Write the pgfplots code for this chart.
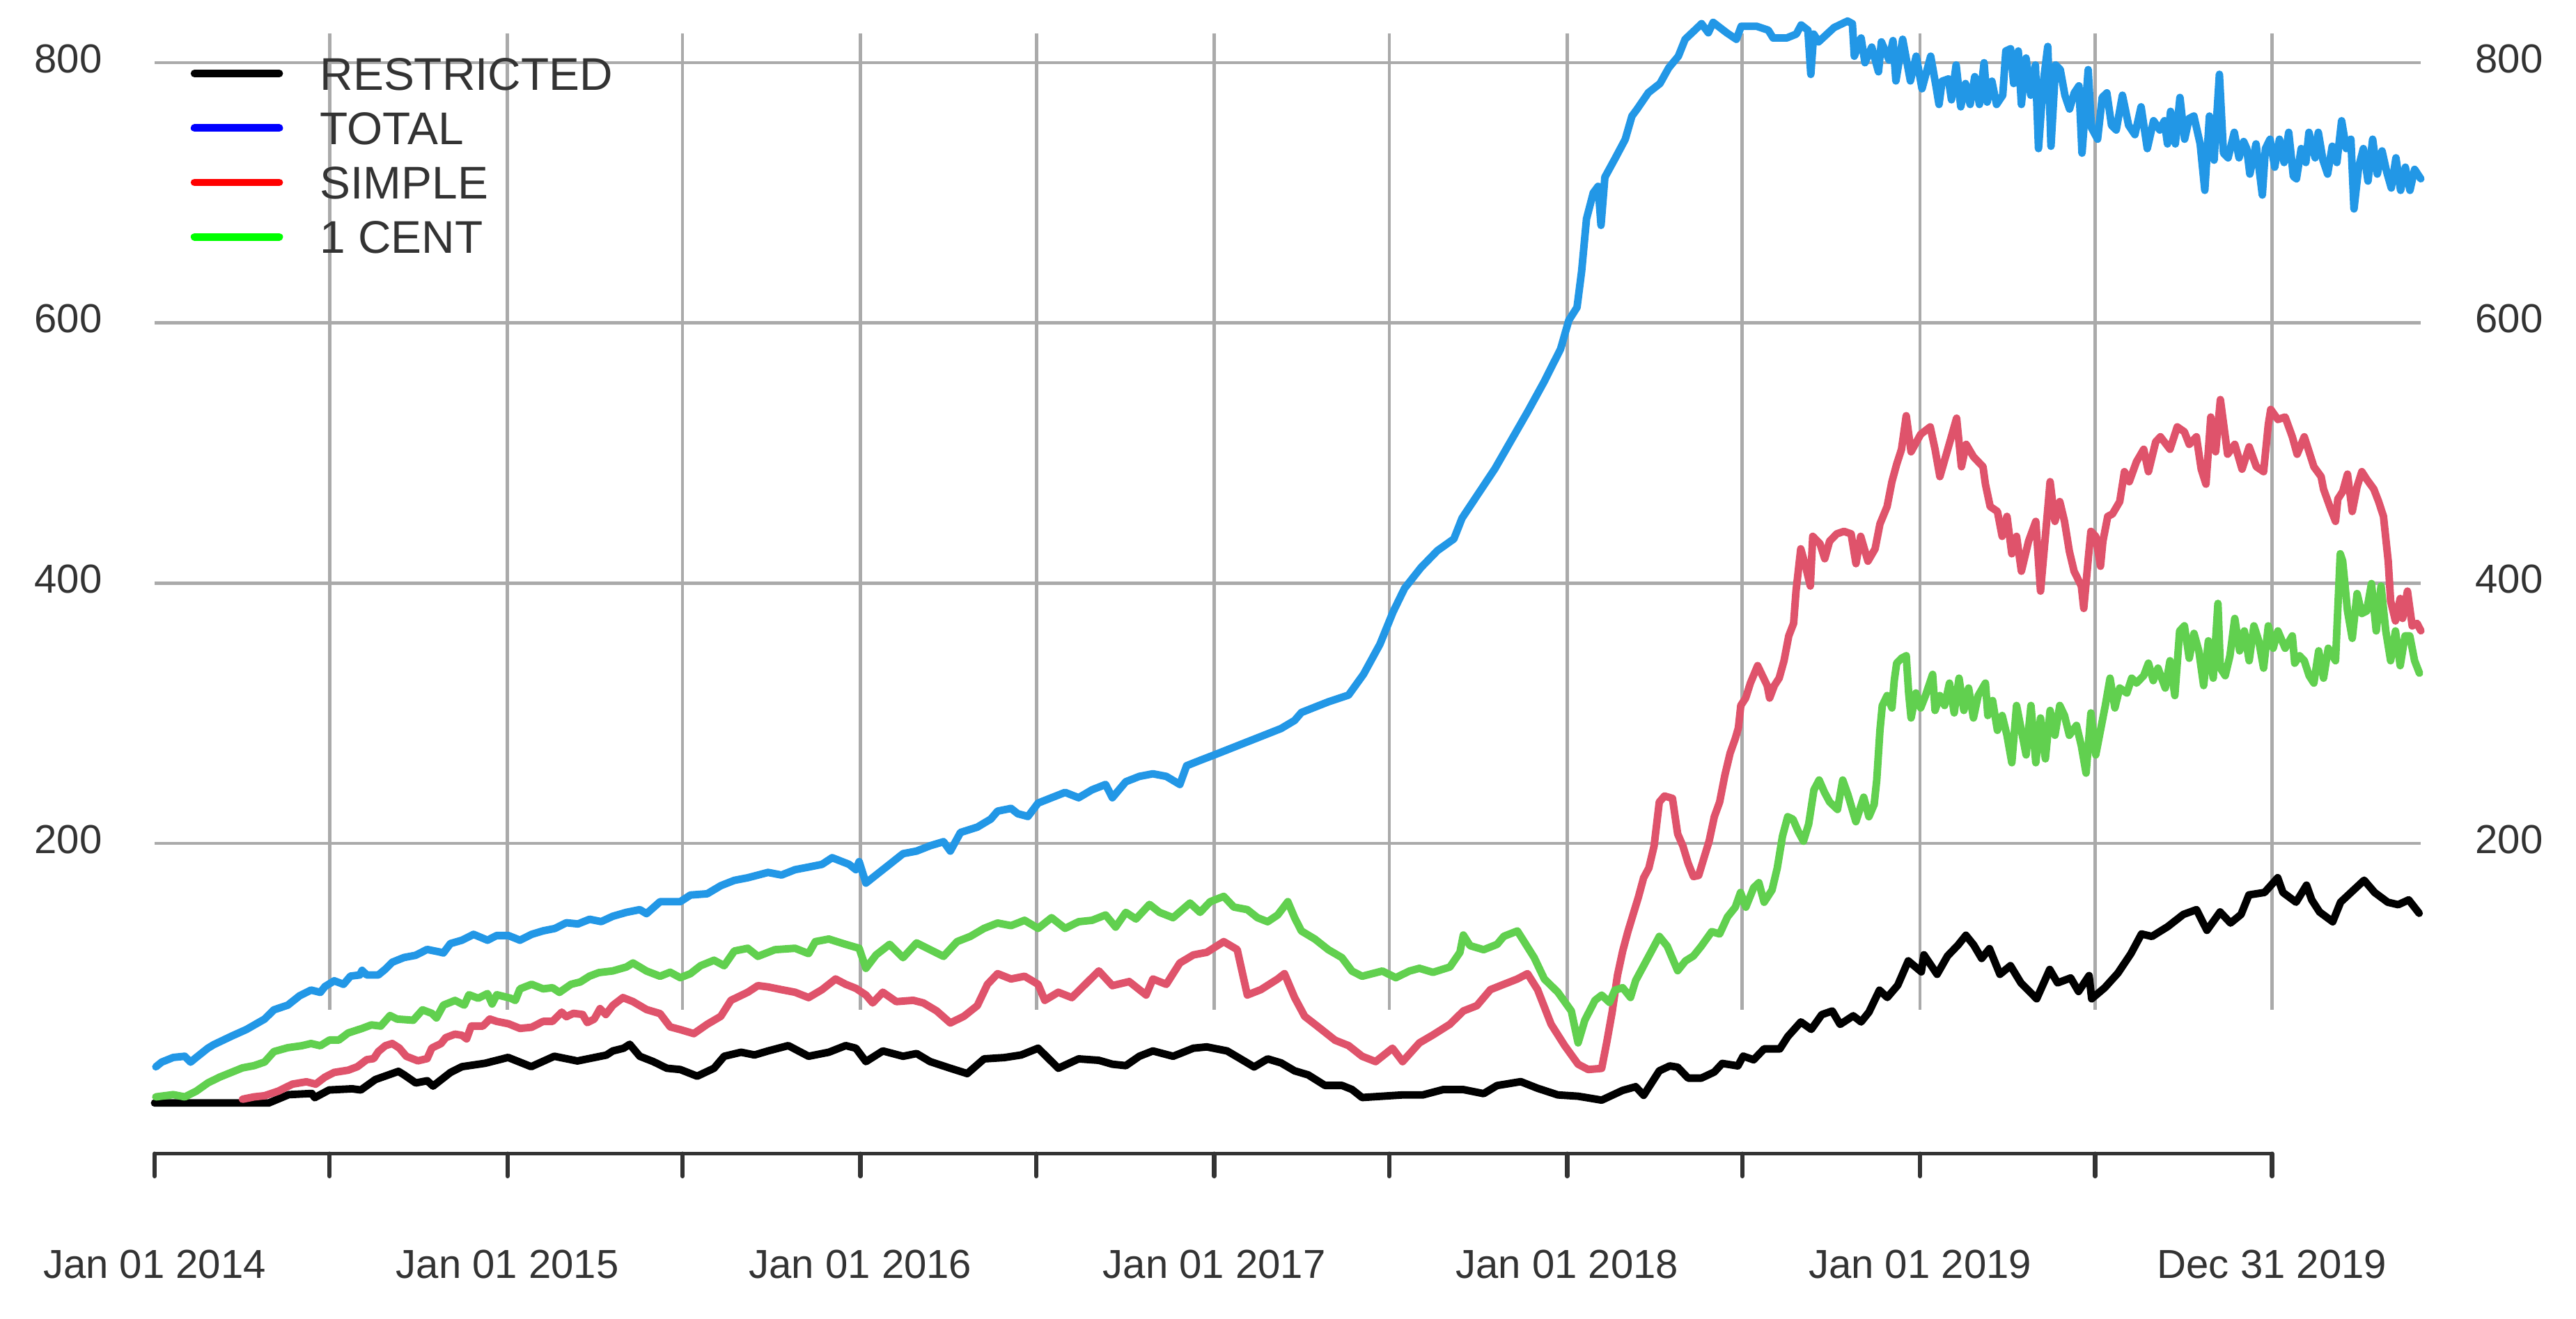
\documentclass[border=0pt]{standalone}
\usepackage{fontspec}
\setmainfont{Liberation Sans}
\usepackage{pgfplots}
\pgfplotsset{compat=1.18}
\definecolor{cblue}{HTML}{2297E6}
\definecolor{cred}{HTML}{DF536B}
\definecolor{cgreen}{HTML}{61D04F}
\definecolor{gridgray}{HTML}{AAAAAA}
\definecolor{txt}{HTML}{333333}
\pgfplotsset{
  base/.style={
    x=0.19834pt, y=0.26690pt,
    xmin=0, xmax=2344,
    enlargelimits=false,
    axis line style={draw=none},
    tick style={draw=none},
    major tick length=0pt,
    grid style={gridgray, line width=0.67pt},
    clip=false,
  },
  ser/.style={line width=1.55pt, line join=round, line cap=round, forget plot},
}
\newcommand{\tickfont}{\fontsize{8.3}{10}\selectfont}
\begin{document}
\begin{tikzpicture}
\useasboundingbox (-31.714pt,-33.814pt) rectangle (496.714pt,236.671pt);
% vertical grid lines and right-hand labels
\begin{axis}[base, at={(0pt,29.519pt)}, anchor=south west,
  ymin=72.1, ymax=822.5,
  xtick={181,365,546,730,912,1096,1277,1461,1642,1826,2007,2190},
  xticklabels={}, xmajorgrids,
  ytick={200,400,600,800}, yticklabels={200,400,600,800},
  yticklabel pos=right,
  yticklabel style={anchor=west, inner sep=0pt, xshift=11.0pt, yshift=0.85pt, font=\tickfont, text=txt}]
\end{axis}
% main axis with data
\begin{axis}[base, at={(0pt,0pt)}, anchor=south west,
  ymin=-38.5, ymax=822.5,
  xtick=\empty,
  ytick={200,400,600,800}, yticklabels={200,400,600,800}, ymajorgrids,
  yticklabel style={anchor=east, inner sep=0pt, xshift=-10.6pt, yshift=0.85pt, font=\tickfont, text=txt},
  legend image code/.code={\draw[#1, line cap=round] (0pt,0pt) -- (17.4pt,0pt);},
  legend style={at={(axis cs:0,804.3)}, anchor=north west, xshift=7.4pt,
    draw=none, fill=none, inner sep=0pt, outer sep=0pt, row sep=4.44pt,
    font=\fontsize{9.4}{11}\selectfont, text=txt,
    nodes={inner sep=0pt, text height=6.73pt, text depth=0pt},
    /tikz/every odd column/.append style={column sep=7.6pt}},
  legend cell align=left]
% RESTRICTED
\addplot[ser, black] coordinates {(0,0.5)(118,0.5)(138.7,6.9)(162.6,7.8)(165.6,4.6)(180.5,10.5)(204.4,11.4)(213.3,10.5)(228.3,18.5)(252.2,24.8)(258.1,22.1)(270.1,15.9)(282.0,17.6)(288.0,13.5)(305.9,23.9)(317.9,28.4)(341.7,31.0)(365.6,35.5)(389.5,28.4)(413.4,36.4)(437.3,32.8)(467.2,37.3)(473.9,40.5)(485.1,42.6)(491.4,45.6)(501.8,36.4)(515.8,32.3)(529.8,27.2)(543.7,26.2)(561.2,21.1)(578.6,27.2)(589.1,36.4)(606.6,39.5)(620.5,37.4)(634.5,40.5)(655.4,44.6)(676.4,36.4)(697.3,39.5)(714.8,44.6)(725.3,42.6)(735.7,32.3)(753.2,40.5)(774.1,36.4)(788.1,38.5)(802.1,32.3)(823.0,27.2)(840.5,23.1)(857.9,34.4)(878.9,35.4)(896.3,37.4)(913.8,42.6)(934.7,27.2)(955.7,34.4)(976.6,33.3)(990.6,30.3)(1004.5,29.2)(1018.5,36.4)(1032.5,40.5)(1053.4,36.4)(1074.4,42.6)(1088.3,43.6)(1109.3,40.5)(1123.2,34.4)(1137.2,28.2)(1151.2,34.4)(1165.1,31.3)(1179.1,25.2)(1193.1,22.1)(1210.5,14.0)(1228.0,14.0)(1238.4,10.9)(1248.9,4.7)(1269.8,5.7)(1290.8,6.7)(1311.7,6.7)(1332.7,10.8)(1353.6,10.8)(1374.6,7.7)(1388.5,13.9)(1413.0,16.9)(1430.4,11.8)(1451.4,6.7)(1472.3,5.7)(1496.7,2.7)(1518.4,10.2)(1531.9,13.0)(1540.1,6.4)(1548.2,15.8)(1556.3,25.2)(1567.2,29.0)(1575.3,28.0)(1586.1,19.6)(1599.7,19.6)(1613.2,24.3)(1621.4,30.9)(1637.6,29.0)(1643.0,36.5)(1653.9,33.7)(1664.7,42.1)(1681.0,42.1)(1689.1,51.5)(1702.7,62.8)(1713.5,57.1)(1724.3,68.4)(1735.2,71.2)(1743.3,60.9)(1756.9,67.5)(1765.0,62.8)(1773.1,70.3)(1784.0,87.2)(1792.1,81.6)(1802.9,91.0)(1813.8,109.7)(1827.3,101.3)(1830.0,114.4)(1843.6,99.4)(1854.4,113.5)(1865.3,121.9)(1873.4,129.4)(1881.5,121.9)(1889.7,111.6)(1897.8,119.1)(1908.6,99.4)(1919.5,106.0)(1930.3,92.8)(1946.6,80.6)(1960.1,103.1)(1968.2,92.8)(1981.8,96.6)(1989.9,86.2)(2000.8,98.4)(2003.5,80.6)(2017.0,89.1)(2030.6,100.3)(2044.1,115.3)(2055.0,130.4)(2065.8,128.5)(2082.1,136.0)(2098.3,145.4)(2111.9,149.1)(2122.7,133.2)(2136.3,147.3)(2147.1,138.8)(2158.0,145.4)(2166.1,160.4)(2182.3,162.3)(2195.9,173.6)(2201.3,162.3)(2214.9,154.8)(2225.7,167.9)(2231.1,156.6)(2239.2,147.3)(2252.8,139.8)(2260.9,154.8)(2271.7,162.3)(2285.3,171.7)(2296.1,162.3)(2309.7,154.8)(2320.5,152.9)(2331.4,156.6)(2342.2,146.3)};
% TOTAL
\addplot[ser, cblue] coordinates {(1.3,28.3)(7.3,31.9)(19.3,35.5)(31.2,36.4)(37.2,31.9)(43.1,35.5)(55.1,42.6)(61.1,45.3)(80,52)(95,57)(113.8,65.0)(123.4,72.1)(137.8,75.7)(149.8,82.8)(161.8,87.3)(171.4,85.5)(176.2,90.0)(185.8,94.4)(195.4,91.7)(202.6,98.0)(212.2,98.9)(214.6,102.4)(219.4,98.9)(231.4,98.9)(238.6,103.3)(245.9,108.7)(257.9,112.3)(269.9,114.0)(281.9,118.5)(293.9,116.7)(298.7,115.8)(305.9,123.0)(317.9,125.6)(329.9,130.1)(344.3,125.6)(353.9,129.2)(365.9,129.2)(377.9,125.6)(389.9,130.1)(401.9,132.8)(413.9,134.6)(425.9,139.0)(437.9,138.1)(449.9,141.7)(461.9,139.9)(473.9,144)(487.9,147.0)(501.8,149.1)(508.8,146.0)(522.8,155.2)(543.7,155.2)(554.2,160.3)(571.6,161.3)(585.6,167.5)(599.6,171.6)(613.5,173.6)(634.5,177.7)(648.4,175.7)(662.4,179.8)(676.4,181.8)(690.3,183.9)(700.8,189.0)(718.3,183.9)(725.3,179.8)(728.7,186.0)(735.7,169.5)(746.2,175.7)(760.2,183.9)(774.1,192.1)(788.1,194.1)(802.1,198.2)(816.0,201.3)(823.0,194.1)(833.5,208.4)(850.9,212.5)(864.9,218.7)(871.9,224.8)(885.8,226.9)(892.8,222.8)(903.3,220.7)(913.8,231.0)(927.7,235.1)(941.7,239.2)(955.7,235.1)(969.6,241.2)(983.6,245.3)(990.6,235.1)(1004.5,247.4)(1018.5,251.5)(1032.5,253.5)(1046.4,251.5)(1060.4,245.3)(1067.4,259.7)(1081.3,263.8)(1095.3,267.8)(1109.3,271.9)(1123.2,276.0)(1137.2,280.1)(1151.2,284.2)(1165.1,288.3)(1179.1,294.5)(1186.1,300.6)(1200.0,304.7)(1214.0,308.8)(1234.9,314)(1250.4,330)(1267.3,353)(1281.0,378)(1292.8,396)(1309.8,412)(1326.8,425)(1343.8,434)(1352.3,450)(1369.3,469)(1386.3,488)(1403.3,510)(1420.3,532)(1437.3,555)(1454.2,580)(1462.7,602)(1471.2,612)(1476,640)(1481,680)(1488,700)(1493,705)(1496,675)(1500,712)(1511,727)(1521,741)(1528,759)(1533,764)(1545,777)(1557,784)(1566,796)(1576,805)(1583,818)(1593,825)(1600,830)(1607,823)(1612,831)(1626,823)(1636,818)(1641,828)(1657,828)(1669,825)(1674,819)(1688,819)(1698,822)(1703,829)(1710,825)(1713,791)(1716,822)(1721,816)(1737,827)(1751,832)(1756,830)(1758,805)(1765,819)(1769,800)(1776,812)(1783,793)(1786,816)(1794,802)(1798,817)(1801,786)(1808,818)(1816,786)(1822,805)(1828,780)(1837,805)(1842.4,782.2)(1845.6,767.9)(1848.8,785.8)(1855.3,787.5)(1858.5,771.5)(1863.3,798.3)(1868.1,766.1)(1873.0,784.0)(1877.8,767.9)(1882.6,789.3)(1887.4,767.9)(1892.2,800.0)(1895.4,769.7)(1900.3,785.8)(1905.1,767.9)(1911.5,775.0)(1914.7,809.0)(1919.6,810.7)(1922.8,784.0)(1927.6,809.0)(1930.8,767.9)(1935.6,803.6)(1940.5,775.0)(1945.3,798.3)(1948.5,734.0)(1953.3,784.0)(1958.1,812.5)(1961.4,735.8)(1966.2,798.3)(1971.0,794.7)(1975.8,775.0)(1980.6,764.4)(1985.5,776.8)(1990.3,782.2)(1993.5,730.5)(1999.9,794.7)(2003.2,750.1)(2009.6,741.2)(2014.4,773.3)(2019.2,776.8)(2024.0,751.9)(2028.9,748.3)(2035.3,775.0)(2041.7,751.9)(2048.2,744.7)(2054.6,766.1)(2061.0,734.0)(2067.5,755.4)(2073.9,748.3)(2078.7,755.4)(2081.9,737.6)(2085.1,762.6)(2090.0,737.6)(2094.8,773.3)(2099.6,741.2)(2104.4,757.2)(2109.2,759.0)(2115.7,737.6)(2120.5,701.9)(2125.3,759.0)(2130.1,725.1)(2135.6,791.1)(2139.8,730.5)(2144.6,726.9)(2151.0,746.5)(2155.9,726.9)(2160.7,739.4)(2163.9,734.0)(2167.1,714.4)(2173.5,737.6)(2180.0,698.3)(2183.2,734.0)(2188.0,741.2)(2192.8,719.7)(2197.7,741.2)(2202.5,723.3)(2207.3,746.5)(2212.1,712.6)(2215.3,710.8)(2220.2,734.0)(2225.0,723.3)(2228.2,746.5)(2234.6,726.9)(2237.9,746.5)(2242.7,725.1)(2247.5,714.4)(2252.3,735.8)(2257.1,723.3)(2262.0,755.4)(2266.8,734.0)(2271.6,741.2)(2274.8,687.6)(2279.6,719.7)(2284.5,734.0)(2289.3,709.0)(2294.1,741.2)(2298.9,714.4)(2303.8,732.2)(2308.6,716.2)(2313.4,703.7)(2318.2,726.9)(2323.0,701.9)(2327.9,719.7)(2332.7,701.9)(2337.5,718.0)(2343.9,710.8)};
% SIMPLE
\addplot[ser, cred] coordinates {(90.9,3.4)(102.9,5.2)(113.8,6.1)(128.2,9.7)(142.6,15.0)(157.0,16.8)(166.6,15.0)(176.2,20.4)(185.8,24.0)(200.2,25.7)(209.8,28.4)(219.4,33.8)(226.6,34.6)(231.4,40.0)(238.6,44.5)(245.8,46.2)(253.1,42.7)(260.3,36.4)(272.3,32.9)(281.9,34.6)(286.7,42.7)(296.3,46.2)(301.1,50.7)(310.7,53.4)(317.9,52.5)(322.7,49.8)(327.5,59.6)(339.5,59.6)(346.7,65.0)(353.9,63.2)(365.9,61.4)(377.9,57.8)(389.9,58.7)(401.9,63.2)(411.5,63.2)(421.1,70.3)(425.9,66.8)(433.1,69.4)(442.7,68.5)(447.5,62.3)(454.7,65.0)(460.7,73.0)(466.7,68.5)(473.9,75.5)(484.4,81.5)(494.8,78.4)(508.8,72.3)(522.8,69.2)(533.2,59.0)(543.7,56.9)(557.7,53.8)(571.6,61.0)(585.6,67.1)(596.1,79.4)(613.5,85.6)(624.0,90.7)(634.5,89.7)(648.4,87.6)(662.4,85.6)(676.4,81.5)(690.3,87.6)(704.3,95.8)(714.8,91.7)(725.3,88.6)(735.7,83.5)(742.7,77.4)(753.2,85.6)(767.1,78.4)(784.6,79.4)(795.1,77.4)(809.0,71.2)(823.0,62.0)(837.0,67.1)(850.9,75.3)(861.4,91.7)(871.9,99.9)(885.8,95.8)(899.8,97.9)(913.8,91.7)(920.7,79.4)(934.7,85.6)(948.7,81.5)(962.6,91.7)(976.6,102.0)(990.6,90.7)(1008.0,93.8)(1025.5,83.5)(1032.5,95.8)(1046.4,91.7)(1060.4,108.1)(1074.4,114.3)(1088.3,116.3)(1105.8,124.5)(1119.7,118.4)(1130.2,83.5)(1144.2,87.6)(1161.6,95.8)(1168.6,99.9)(1179.1,81.5)(1189.5,67.1)(1203.5,59.0)(1221.0,48.7)(1234.9,44.6)(1248.9,36.4)(1262.9,32.3)(1280.3,42.6)(1290.8,32.3)(1308.2,46.7)(1322.2,52.8)(1339.7,61.0)(1353.6,71.2)(1367.6,75.3)(1381.6,87.6)(1395.5,91.7)(1409.5,95.8)(1420.0,99.9)(1430.4,87.6)(1444.4,61.0)(1458.4,44.6)(1472.3,30.3)(1482.8,26.2)(1496.7,27.1)(1502.1,47.8)(1507.5,70.3)(1513.0,98.5)(1518.4,117.2)(1523.8,132.2)(1529.2,145.4)(1534.6,158.5)(1540.1,173.6)(1545.5,181.1)(1550.9,198.0)(1556.3,231.8)(1561.7,236.4)(1569.9,234.6)(1575.3,207.3)(1580.7,198.0)(1586.1,184.8)(1591.6,174.5)(1597.0,175.4)(1602.4,188.6)(1607.8,201.7)(1613.2,220.5)(1618.7,231.8)(1624.1,252.4)(1629.5,269.3)(1634.9,280.6)(1638.1,288.8)(1640.6,306.0)(1645.6,311.7)(1650.5,323.2)(1658.0,336.6)(1662.9,329.0)(1667.9,321.3)(1670.4,311.7)(1675.3,321.3)(1680.3,327.1)(1685.3,340.4)(1690.2,359.5)(1695.2,369.1)(1697.7,393.9)(1702.6,426.4)(1707.6,413.0)(1712.5,397.8)(1715.0,436.0)(1722.5,430.3)(1727.4,418.8)(1732.4,432.2)(1739.8,437.9)(1747.3,439.8)(1754.7,437.9)(1759.7,415.0)(1764.6,436.0)(1772.1,416.9)(1779.5,426.4)(1784.5,445.5)(1791.9,458.9)(1796.9,478.0)(1801.8,491.4)(1806.8,502.9)(1811.7,528.7)(1816.7,501.0)(1826.6,514.4)(1836.5,520.1)(1841.5,502.9)(1846.5,481.9)(1853.9,501.0)(1863.8,526.8)(1868.8,489.5)(1873.7,506.7)(1881.2,497.2)(1891.1,489.5)(1893.6,476.1)(1898.5,458.9)(1906.0,455.1)(1910.9,436.0)(1915.9,451.3)(1920.9,422.6)(1925.8,436.0)(1930.8,409.2)(1938.2,432.2)(1945.7,447.5)(1950.6,393.9)(1955.6,436.0)(1960.5,478.0)(1965.5,447.5)(1970.5,462.7)(1975.4,447.5)(1980.4,424.5)(1985.3,409.2)(1992.8,397.8)(1995.3,380.6)(2000.2,420.7)(2002.7,439.8)(2007.7,436.0)(2012.6,413.0)(2015.1,432.2)(2020.1,451.3)(2025.0,453.2)(2032.5,462.7)(2037.4,485.7)(2042.4,478.0)(2049.8,493.3)(2057.3,502.9)(2062.2,485.7)(2069.7,508.6)(2074.6,512.5)(2084.5,502.9)(2092.0,520.1)(2099.4,516.3)(2104.4,506.7)(2111.8,512.5)(2116.8,487.6)(2121.7,476.1)(2126.7,527.7)(2131.7,501.0)(2136.6,541.1)(2144.1,499.1)(2151.5,506.7)(2159.0,487.6)(2166.4,504.8)(2173.8,489.5)(2181.3,485.7)(2186.2,522.0)(2188.7,533.5)(2196.1,525.8)(2203.6,527.7)(2211.0,512.5)(2216.0,499.1)(2223.4,512.5)(2233.3,489.5)(2240.8,481.9)(2243.3,472.3)(2250.7,457.0)(2255.7,447.5)(2258.1,464.7)(2263.1,470.4)(2268.1,483.8)(2273.0,455.1)(2278.0,474.2)(2282.9,485.7)(2287.9,479.9)(2295.3,472.3)(2300.3,462.7)(2305.3,451.3)(2310.2,416.9)(2312.7,386.3)(2317.7,371.0)(2322.6,388.2)(2325.1,372.9)(2330.1,393.9)(2335.0,367.2)(2340.0,369.1)(2344.0,363.4)};
% 1 CENT
\addplot[ser, cgreen] coordinates {(1.3,5.2)(19.3,6.9)(31.2,5.2)(43.1,9.6)(55.1,15.9)(67.0,20.3)(79.0,23.9)(90.9,27.5)(102.9,29.2)(113.8,32)(123.4,40.0)(137.8,43.0)(152.2,44.5)(161.8,46.2)(171.4,44.5)(181.0,48.9)(190.6,48.9)(200.2,54.3)(214.6,57.8)(224.2,60.5)(233.9,59.6)(243.5,67.7)(250.7,65.0)(267.5,64.1)(277.1,72.1)(286.7,69.4)(291.5,65.9)(298.7,75.7)(310.7,79.3)(320.3,75.7)(325.1,83.7)(334.7,81.0)(344.3,84.6)(349.1,76.6)(353.9,83.7)(368.3,81.0)(373.1,79.3)(377.9,88.2)(389.9,91.7)(401.9,88.2)(411.5,89.1)(418.7,85.5)(430.7,91.7)(440.3,93.5)(449.9,98.0)(459.5,100.7)(473.9,102)(487.9,105.0)(494.8,108.1)(508.8,101.9)(522.8,97.9)(533.2,101.0)(543.7,96.8)(554.2,99.9)(564.7,106.0)(578.6,110.2)(589.1,106.0)(599.6,117.3)(613.5,119.4)(624.0,113.2)(641.5,118.3)(662.4,119.4)(676.4,115.3)(683.4,124.5)(697.3,126.5)(714.8,122.4)(728.7,119.4)(735.7,104.0)(746.2,114.3)(760.2,122.4)(774.1,112.2)(788.1,123.5)(802.1,118.3)(816.0,113.2)(830.0,124.5)(843.9,128.6)(857.9,134.7)(871.9,138.8)(885.8,136.8)(899.8,140.9)(913.8,134.7)(927.7,142.9)(941.7,134.7)(955.7,139.8)(969.6,140.9)(983.6,145.0)(994.0,135.7)(1004.5,147.0)(1015.0,141.9)(1029.0,153.1)(1039.4,147.0)(1053.4,142.9)(1070.9,154.2)(1081.3,147.0)(1091.8,155.2)(1105.8,159.3)(1116.2,151.1)(1130.2,149.1)(1140.7,142.9)(1151.2,139.8)(1161.6,145.0)(1172.1,155.2)(1179.1,142.9)(1186.1,132.7)(1200.0,126.5)(1214.0,118.3)(1228.0,112.2)(1238.4,101.9)(1248.9,97.9)(1269.8,101.9)(1283.8,96.8)(1297.8,101.9)(1308.2,104.0)(1322.2,100.9)(1339.7,105.0)(1350.1,116.3)(1353.6,129.6)(1360.6,121.4)(1374.6,118.3)(1388.5,122.4)(1395.5,128.6)(1409.5,132.7)(1416.5,124.5)(1426.9,112.2)(1437.4,95.8)(1451.4,85.6)(1465.3,71.2)(1472.3,46.7)(1479.3,64.2)(1489.8,79.4)(1496.7,83.4)(1504.8,77.8)(1510.3,87.2)(1518.4,89.1)(1526.5,81.6)(1531.9,94.7)(1540.1,106.0)(1548.2,117.2)(1556.3,128.5)(1564.5,121.0)(1569.9,111.6)(1575.3,102.2)(1583.4,109.7)(1591.6,113.5)(1599.7,121.0)(1610.5,132.2)(1618.7,130.4)(1626.8,143.5)(1634.9,151.0)(1640.3,162.3)(1645.8,151.0)(1653.9,166.0)(1659.3,169.8)(1664.7,154.8)(1672.9,164.2)(1678.3,181.1)(1683.7,205.5)(1689.1,220.5)(1694.5,218.6)(1700.0,209.2)(1705.4,201.7)(1710.8,214.9)(1716.2,241.1)(1721.6,248.7)(1727.1,239.3)(1732.5,231.8)(1740.6,226.1)(1746.0,248.7)(1751.4,237.4)(1759.6,216.7)(1767.7,235.5)(1773.1,220.5)(1778.5,229.9)(1781.2,248.7)(1784.5,286.9)(1786.9,305.8)(1791.9,313.6)(1796.9,304.1)(1799.3,325.1)(1801.8,338.5)(1806.8,342.3)(1811.7,344.2)(1814.2,315.6)(1816.7,296.4)(1821.7,315.6)(1826.6,304.1)(1831.6,313.6)(1839.0,329.9)(1841.5,302.2)(1846.5,313.6)(1851.4,306.0)(1856.4,323.2)(1861.3,300.3)(1866.3,327.0)(1871.3,302.2)(1876.2,319.4)(1881.2,296.4)(1886.1,313.6)(1893.6,323.2)(1896.1,298.3)(1901.0,309.8)(1906.0,286.9)(1910.9,298.3)(1915.9,283.1)(1920.9,262)(1925.8,306.0)(1935.7,268)(1940.7,306.0)(1945.7,262)(1950.6,296.4)(1955.6,265)(1960.5,302.2)(1965.5,283.1)(1970.5,306.0)(1975.4,298.3)(1980.4,283.1)(1987.8,290.7)(1992.8,275)(1997.7,254)(2002.7,300.3)(2007.7,268)(2012.6,286.9)(2017.6,306.0)(2022.5,327.0)(2027.5,304.1)(2032.5,319.4)(2039.9,315.6)(2044.9,327.0)(2049.8,323.2)(2057.3,328.9)(2062.2,338.5)(2067.2,325.1)(2072.1,334.7)(2079.6,319.4)(2084.5,340.4)(2089.5,313.6)(2094.5,363.3)(2099.4,367.2)(2104.4,342.3)(2109.3,361.4)(2114.3,348.0)(2119.3,321.3)(2124.2,355.7)(2129.2,327.0)(2134.1,384.4)(2136.6,334.7)(2141.6,328.9)(2146.5,344.2)(2151.5,372.9)(2156.5,348.0)(2161.4,363.3)(2166.4,340.4)(2171.3,367.2)(2176.3,355.7)(2181.3,334.7)(2186.2,367.2)(2191.2,350.0)(2196.1,363.3)(2203.6,350.0)(2211.0,359.5)(2213.5,338.5)(2218.5,344.2)(2223.4,340.4)(2228.4,328.9)(2233.3,323.2)(2238.3,348.0)(2243.3,327.0)(2248.2,350.0)(2255.7,340.4)(2260.6,422.6)(2263.1,416.9)(2268.1,378.6)(2273.0,357.6)(2278.0,392.0)(2282.9,376.7)(2287.9,378.6)(2292.9,399.7)(2297.8,363.3)(2302.8,397.8)(2307.7,363.3)(2312.7,340.4)(2317.7,363.3)(2322.6,336.6)(2327.6,359.5)(2332.5,359.5)(2337.5,340.4)(2342.5,330.8)};
\addlegendimage{black, line width=1.55pt}
\addlegendentry{RESTRICTED}
\addlegendimage{blue, line width=1.55pt}
\addlegendentry{TOTAL}
\addlegendimage{red, line width=1.55pt}
\addlegendentry{SIMPLE}
\addlegendimage{green, line width=1.55pt}
\addlegendentry{1 CENT}
\end{axis}
% bottom date axis
\begin{axis}[x=0.19834pt, y=0.26690pt, at={(0pt,0pt)}, anchor=south west,
  xmin=0, xmax=2190, ymin=-38.5, ymax=822.5, enlargelimits=false,
  axis x line*=bottom, axis y line=none,
  axis line style={txt, line width=0.8pt, line cap=round},
  xtick={0,181,365,546,730,912,1096,1277,1461,1642,1826,2007,2190},
  xticklabels={Jan 01 2014,{},Jan 01 2015,{},Jan 01 2016,{},Jan 01 2017,{},Jan 01 2018,{},Jan 01 2019,{},Dec 31 2019},
  tick align=outside, major tick length=4.6pt,
  tick style={txt, line width=0.9pt, line cap=round},
  xticklabel style={font=\tickfont, text=txt, anchor=center, inner sep=0pt, yshift=-18.1pt},
  ytick=\empty]
\end{axis}
\end{tikzpicture}
\end{document}
